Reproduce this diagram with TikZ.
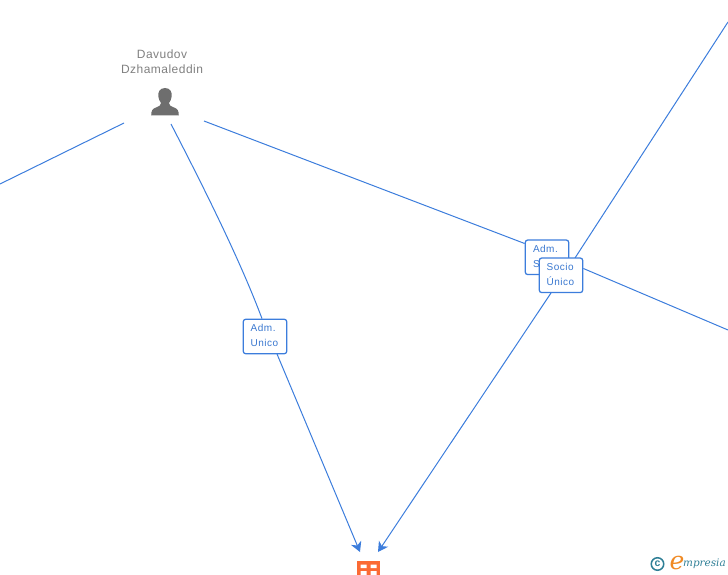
\documentclass[tikz,border=0pt]{standalone}
\usepackage{fontspec}
\setmainfont{Liberation Sans}
\newfontfamily\logofont{DejaVu Serif}
\newfontfamily\labelfont{Liberation Sans}[LetterSpace=5]
\newfontfamily\namefont{Liberation Sans}[LetterSpace=4]
\usetikzlibrary{arrows.meta}
\definecolor{linkblue}{HTML}{3C7DDC}
\definecolor{labelblue}{HTML}{3A78D0}
\definecolor{namegrey}{HTML}{808080}
\definecolor{icongrey}{HTML}{6E6E6E}
\definecolor{brick}{HTML}{FB6A34}
\definecolor{teal}{HTML}{2F7F96}
\definecolor{logoorange}{HTML}{F08A24}
\tikzset{
  conn/.style={draw=linkblue,line width=1pt},
  connarrow/.style={conn,-{Stealth[length=10pt,width=11pt,inset=3pt]}},
  rolebox/.style={draw=linkblue,line width=1.25pt,fill=white,rounded corners=2.5pt,
    minimum width=43.5pt,minimum height=34.5pt,inner sep=0pt,
    font=\labelfont\fontsize{10pt}{14.6pt}\selectfont,text=labelblue},
  nametext/.style={align=center,font=\namefont\fontsize{12pt}{15pt}\selectfont,text=namegrey,inner sep=0pt}
}
\begin{document}
\begin{tikzpicture}[x=1pt,y=-1pt]
\useasboundingbox (0,0) rectangle (728,575);
\clip (0,0) rectangle (728,575);
% free ends
\coordinate (leftend) at (0,184);
\coordinate (leftstart) at (124,123);
\coordinate (downstart) at (171,124);
\coordinate (rightstart) at (204,121);
\coordinate (rightend) at (728,330);
\coordinate (topend) at (728,22);
\coordinate (arrowL) at (360,552);
\coordinate (arrowR) at (378,552);
% labels
\node[rolebox] (admsocio) at (547,257.3) {\hspace*{-1pt}\raisebox{-0.5pt}{\begin{tabular}{@{}l@{}}Adm.\\[0.3pt]Socio\end{tabular}}};
\draw[conn] (leftstart) -- (leftend);
\draw[conn] (rightstart) -- (admsocio.west |- 0,243.5);
\draw[conn] (topend) -- (575,258);
\node[rolebox] (socio) at (561,275.3) {\hspace*{-1pt}\raisebox{-0.5pt}{\begin{tabular}{@{}l@{}}Socio\\[0.3pt]Único\end{tabular}}};
\draw[conn] (socio.east |- 0,268.5) -- (rightend);
\node[rolebox] (admunico) at (265,336.5) {\hspace*{-1pt}\raisebox{-0.5pt}{\begin{tabular}{@{}l@{}}Adm.\\[0.3pt]Unico\end{tabular}}};
\draw[conn] (downstart) .. controls (205,190) and (240,260) .. (admunico.north -| 262,0);
\draw[connarrow] (277,354) -- (arrowL);
\draw[connarrow] (551,293) -- (arrowR);
% person
\node[nametext] (name) at (162,61.5) {Davudov\\Dzhamaleddin};
\fill[icongrey] (165,88) .. controls (159.5,88) and (157.8,92.5) .. (158.3,96.5)
  .. controls (158.6,99.5) and (160,101.5) .. (161,103)
  .. controls (161,105.5) and (159,106.5) .. (156,107.5)
  .. controls (152.5,108.8) and (151.2,110.5) .. (151.2,115.5)
  -- (178.8,115.5)
  .. controls (178.8,110.5) and (177.5,108.8) .. (174,107.5)
  .. controls (171,106.5) and (169,105.5) .. (169,103)
  .. controls (170,101.5) and (171.4,99.5) .. (171.7,96.5)
  .. controls (172.2,92.5) and (170.5,88) .. cycle;
% building
\fill[brick] (357,561) rectangle (380,575);
\fill[white] (360.5,564.5) rectangle (366.5,568) (370.5,564.5) rectangle (376.5,568)
  (360.5,571) rectangle (366.5,575) (370.5,571) rectangle (376.5,575);
% logo
\node[draw=teal,circle,line width=1.5pt,minimum size=12.5pt,inner sep=0pt,text=teal,
  font=\bfseries\fontsize{10.5pt}{10.5pt}\selectfont] (copyr) at (657.5,564) {c};
\node[inner sep=0pt,text=logoorange,font=\logofont\itshape\fontsize{25pt}{25pt}\selectfont] (logoe) at (677,563) {e};
\node[inner sep=0pt,anchor=west,text=teal,font=\logofont\itshape\fontsize{10.4pt}{11pt}\selectfont] (logot) at (683,563.5) {mpresia};
\end{tikzpicture}
\end{document}
